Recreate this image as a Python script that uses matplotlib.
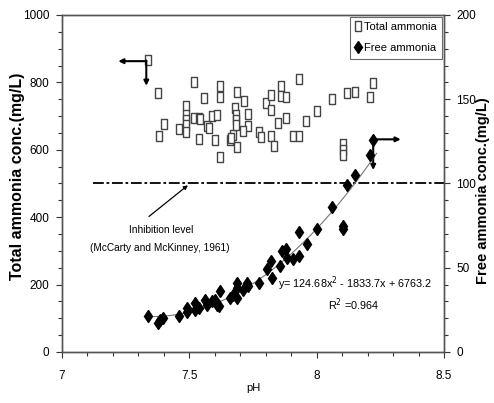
import numpy as np
import matplotlib
matplotlib.use('Agg')
import matplotlib.pyplot as plt
from matplotlib.lines import Line2D
from matplotlib.ticker import MultipleLocator

plt.rcParams['font.family'] = ['Liberation Sans', 'DejaVu Sans']

# total ammonia (pH, mg/L)
total_ph = [7.339, 7.378, 7.381, 7.400, 7.459, 7.487, 7.487, 7.487, 7.487, 7.487,
            7.518, 7.518, 7.539, 7.539, 7.559, 7.568, 7.578, 7.590, 7.607, 7.601,
            7.620, 7.620, 7.620, 7.660, 7.670, 7.688, 7.679, 7.683, 7.683, 7.683,
            7.688, 7.716, 7.729, 7.729, 7.712, 7.773, 7.780, 7.800, 7.819, 7.819,
            7.819, 7.832, 7.849, 7.859, 7.859, 7.880, 7.880, 7.908, 7.929, 7.929,
            7.960, 8.000, 8.060, 8.118, 8.150, 8.209, 8.222, 8.102, 8.102, 8.102,
            7.663, 7.540]
total_nh3 = [866, 768, 641, 677, 662, 731, 703, 688, 674, 654,
             800, 693, 693, 631, 753, 671, 664, 701, 703, 629,
             789, 756, 580, 629, 644, 772, 723, 703, 688, 674,
             609, 745, 706, 671, 656, 652, 639, 738, 763, 718,
             641, 612, 679, 789, 760, 756, 693, 641, 641, 810,
             685, 716, 751, 768, 772, 756, 799, 617, 599, 585,
             636, 690]

# free ammonia (pH, mg/L)
free_ph = [7.339, 7.385, 7.396, 7.377, 7.459, 7.490, 7.490, 7.522, 7.522, 7.539,
           7.561, 7.568, 7.588, 7.601, 7.607, 7.620, 7.618, 7.660, 7.673, 7.686,
           7.686, 7.688, 7.712, 7.725, 7.731, 7.775, 7.804, 7.819, 7.826, 7.856,
           7.862, 7.880, 7.882, 7.908, 7.932, 7.932, 7.961, 8.000, 8.059, 8.102,
           8.102, 8.120, 8.150, 8.209, 8.222]
free_nh3 = [21.5, 19, 20, 17, 21.5, 24, 26, 29, 25, 26,
            31, 28, 30, 31, 28, 36, 27, 32, 34, 38,
            41, 32, 37, 41, 39, 41, 49, 54, 44, 51,
            60, 61, 56, 55, 57, 71, 64, 73, 86, 75,
            73, 99, 105, 117, 126]

# trend coefficients
fit_a, fit_b, fit_c = 124.68, -1833.7, 6763.2
inhibition_level = 500

fig = plt.figure(figsize=(4.94, 4.03), dpi=100)
ax = fig.add_axes([0.1255, 0.1266, 0.7733, 0.8362])
ax2 = ax.twinx()

rect = [(-0.33, -0.5), (0.33, -0.5), (0.33, 0.5), (-0.33, 0.5), (-0.33, -0.5)]
ax.plot(total_ph, total_nh3, linestyle='none', marker=rect, markersize=7,
        markerfacecolor='white', markeredgecolor='#444444', markeredgewidth=1.0, zorder=3)

xs = np.linspace(7.36, 8.235, 100)
ax2.plot(xs, fit_a * xs**2 + fit_b * xs + fit_c, color='#777777', lw=0.8, zorder=2)
ax2.plot(free_ph, free_nh3, linestyle='none', marker='d', markersize=6,
         color='black', zorder=3)

# inhibition level
ax.plot([7.122, 8.5], [inhibition_level, inhibition_level], color='black', lw=1.3,
        linestyle=(0, (6, 1.5, 1.5, 1.5)), zorder=2)
ax.annotate('', xy=(7.503, 500), xytext=(7.333, 397),
            arrowprops=dict(arrowstyle='-|>', color='black', lw=0.9, mutation_scale=6))
ax.text(7.391, 362, 'Inhibition level', ha='center', va='center', fontsize=7.3)
ax.text(7.385, 308, '(McCarty and McKinney, 1961)', ha='center', va='center', fontsize=7.3)

ax.text(7.849, 204, 'y= 124.68x$^2$ - 1833.7x + 6763.2', ha='left', va='center', fontsize=7.8)
ax.text(8.144, 139, 'R$^2$ =0.964', ha='center', va='center', fontsize=7.8)

# arrows pointing to the axes
arr = dict(arrowstyle='-|>', color='black', lw=1.5, mutation_scale=7, shrinkA=0, shrinkB=0)
ax.annotate('', xy=(7.221, 863), xytext=(7.331, 863), arrowprops=arr)
ax.annotate('', xy=(7.331, 790), xytext=(7.331, 865), arrowprops=arr)
ax.annotate('', xy=(8.330, 631), xytext=(8.222, 631), arrowprops=arr)
ax.annotate('', xy=(8.222, 540), xytext=(8.222, 633), arrowprops=arr)

ax.set_xlim(7, 8.5)
ax.set_ylim(0, 1000)
ax2.set_ylim(0, 200)
ax.set_xticks([7, 7.5, 8, 8.5])
ax.set_xticklabels(['7', '7.5', '8', '8.5'])
ax.xaxis.set_minor_locator(MultipleLocator(0.1))
ax.set_yticks([0, 200, 400, 600, 800, 1000])
ax.yaxis.set_minor_locator(MultipleLocator(50))
ax2.set_yticks([0, 50, 100, 150, 200])
ax2.yaxis.set_minor_locator(MultipleLocator(10))

for a in (ax, ax2):
    a.tick_params(which='major', direction='out', length=4, width=0.8, labelsize=8.5,
                  color='#333333', pad=5)
    a.tick_params(which='minor', direction='out', length=3, width=0.8, color='#333333')
    for sp in a.spines.values():
        sp.set_color('#555555')
        sp.set_linewidth(1.0)
ax.tick_params(axis='x', pad=9)

ax.set_xlabel('pH', fontsize=8, labelpad=1)
ax.set_ylabel('Total ammonia conc.(mg/L)', fontsize=11.5, fontweight='bold')
ax.yaxis.set_label_coords(-0.097, 0.52)
ax2.set_ylabel('Free ammonia conc.(mg/L)', fontsize=10.5, fontweight='bold')
ax2.yaxis.set_label_coords(1.085, 0.48)

handles = [Line2D([], [], linestyle='none', marker=rect, markersize=7, markerfacecolor='white',
                  markeredgecolor='#444444', label='Total ammonia'),
           Line2D([], [], linestyle='none', marker='d', markersize=6, color='black',
                  label='Free ammonia')]
leg = ax2.legend(handles=handles, loc='upper right', fontsize=8, frameon=True, fancybox=False,
                 edgecolor='#444444', handlelength=0.6, handletextpad=0.2, borderpad=0.5,
                 labelspacing=1.0, borderaxespad=0.15)
leg.get_frame().set_linewidth(0.8)

fig.savefig('out.png', dpi=100)
